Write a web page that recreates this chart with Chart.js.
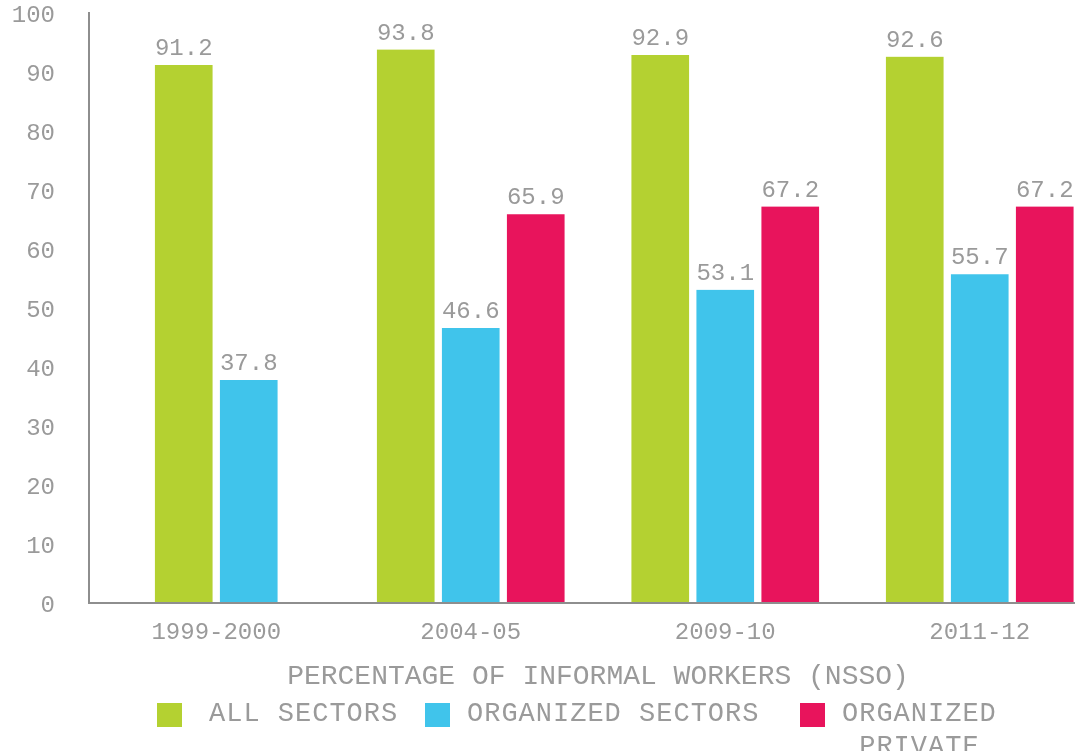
<!DOCTYPE html>
<html>
<head>
<meta charset="utf-8">
<script src="https://cdn.jsdelivr.net/npm/chart.js@4"></script>
<style>
  html, body { margin: 0; padding: 0; background: #fff; overflow: hidden; }
  #wrap { position: relative; width: 1075px; height: 751px; overflow: hidden; }
  #chartCanvas { position: absolute; left: 0; top: 0; }
  .leg { position: absolute; font-family: "Liberation Mono", monospace; font-size: 27px;
         letter-spacing: 1px; color: #9a9a9a; line-height: 33px; text-align: center; white-space: pre; }
  .box { position: absolute; width: 25px; height: 24px; }
</style>
</head>
<body>
<div id="wrap">
  <canvas id="chartCanvas" width="1110" height="751"></canvas>
</div>
<script>
var years = ['1999-2000', '2004-05', '2009-10', '2011-12'];
var allSectors = [91.2, 93.8, 92.9, 92.6];
var organizedSectors = [37.8, 46.6, 53.1, 55.7];
var organizedPrivate = [null, 65.9, 67.2, 67.2];
var seriesNames = ['ALL SECTORS', 'ORGANIZED SECTORS', 'ORGANIZED\nPRIVATE'];
var seriesColors = ['#b4d131', '#40c4eb', '#e8145c'];
var yTicks = [0, 10, 20, 30, 40, 50, 60, 70, 80, 90, 100];
var xTitle = 'PERCENTAGE OF INFORMAL WORKERS (NSSO)';

var grey = '#9a9a9a';
var fontName = '"Liberation Mono", monospace';

// value labels above each bar
var barLabels = {
    id: 'barLabels',
    afterDatasetsDraw: function(chart){
        var ctx = chart.ctx;
        ctx.save();
        ctx.font = '24px ' + fontName;
        ctx.fillStyle = grey;
        ctx.textAlign = 'center';
        ctx.textBaseline = 'alphabetic';
        chart.data.datasets.forEach(function(ds, i){
            chart.getDatasetMeta(i).data.forEach(function(bar, j){
                if (ds.data[j] == null) return;
                ctx.fillText(ds.data[j].toFixed(1), bar.x, bar.y - 10);
            });
        });
        ctx.restore();
    }
};

var datasets = [allSectors, organizedSectors, organizedPrivate].map(function(vals, i){
    return {
        label: seriesNames[i].replace('\n', ' '),
        data: vals,
        backgroundColor: seriesColors[i],
        borderColor: '#ffffff',
        borderWidth: {left: 4, right: 4, top: 0, bottom: 0},
        borderSkipped: false,
        barThickness: 65,
        skipNull: true
    };
});

var ctx = document.getElementById('chartCanvas').getContext('2d');
var myBarChart = new Chart(ctx, {
    type: 'bar',
    data: { labels: years, datasets: datasets },
    options: {
        responsive: false,
        animation: false,
        layout: { padding: { top: 13, right: 3, bottom: 58, left: 0 } },
        plugins: { legend: { display: false }, tooltip: { enabled: false } },
        scales: {
            x: {
                afterFit: function(scale){ scale.height = 90; },
                grid: { display: false, drawTicks: false },
                border: { color: '#8e8e8e', width: 2, z: 1 },
                ticks: { color: grey, font: { family: fontName, size: 24 }, padding: 15 },
                title: {
                    display: true, text: xTitle, color: grey,
                    font: { family: fontName, size: 28 },
                    padding: { top: 14, bottom: 0 }
                }
            },
            y: {
                min: 0, max: 100,
                afterFit: function(scale){
                    scale.width = 89;
                    scale.paddingTop = 0;
                    scale.paddingBottom = 0;
                },
                afterBuildTicks: function(scale){
                    scale.ticks = yTicks.map(function(v){ return { value: v }; });
                },
                grid: { display: false, drawTicks: false },
                border: { color: '#8e8e8e', width: 2, z: 1 },
                ticks: { color: grey, font: { family: fontName, size: 24 }, padding: 34, labelOffset: 3 }
            }
        }
    },
    plugins: [barLabels]
});

// html legend built from the series arrays
var legendPos = [
    { box: 157, text: 209 },
    { box: 425, text: 467 },
    { box: 800, text: 842 }
];
var wrap = document.getElementById('wrap');
seriesNames.forEach(function(name, i){
    var b = document.createElement('div');
    b.className = 'box';
    b.style.left = legendPos[i].box + 'px';
    b.style.top = '703px';
    b.style.background = seriesColors[i];
    wrap.appendChild(b);
    var t = document.createElement('div');
    t.className = 'leg';
    t.style.left = legendPos[i].text + 'px';
    t.style.top = '698px';
    t.textContent = name;
    wrap.appendChild(t);
});
</script>
</body>
</html>
